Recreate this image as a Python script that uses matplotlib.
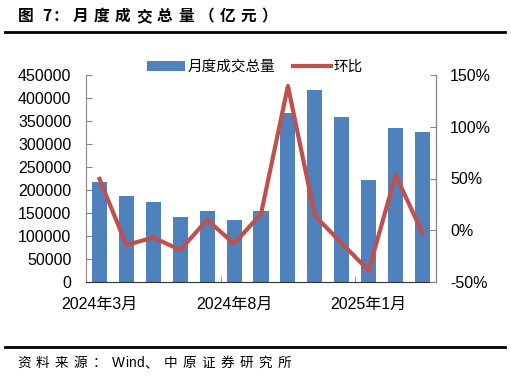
import matplotlib
matplotlib.use("Agg")
import matplotlib.pyplot as plt
from matplotlib.ticker import FuncFormatter, FixedLocator
import numpy as np

plt.rcParams['font.family'] = ['Liberation Sans', 'Noto Sans CJK SC', 'DejaVu Sans']

months = ["2024年3月", "2024年4月", "2024年5月", "2024年6月", "2024年7月", "2024年8月",
          "2024年9月", "2024年10月", "2024年11月", "2024年12月", "2025年1月", "2025年2月", "2025年3月"]
volume = [216700, 187600, 173900, 142000, 155000, 135400, 155000,
          368000, 418000, 358700, 221700, 335400, 325400]
mom = [49.6, -14.2, -7.1, -19.0, 10.0, -12.9, 15.7, 139.4, 14.1, -12.6, -39.0, 53.4, -2.9]

title = "图 7：月度成交总量（亿元）"
source = "资料来源：Wind、中原证券研究所"

bar_color = "#4F81BD"
line_color = "#C0504D"

W, H = 511, 378
fig = plt.figure(figsize=(W/100, H/100), dpi=100)
ax = fig.add_axes([86/W, 1-282/H, 350/W, 207/H])
ax2 = ax.twinx()

x = np.arange(len(months))
bars = ax.bar(x, volume, width=0.56, color=bar_color, label="月度成交总量", zorder=2)
line, = ax2.plot(x, mom, color=line_color, lw=3, label="环比", zorder=3)

ax.set_xlim(-0.5, len(months) - 0.5)
ax.set_ylim(0, 450000)
ax.set_yticks(np.arange(0, 450001, 50000))
ax2.set_ylim(-50, 150)
ax2.set_yticks([-50, 0, 50, 100, 150])
ax2.yaxis.set_major_formatter(FuncFormatter(lambda v, p: f"{int(v)}%"))

ax.set_xticks([0, 5, 10])
ax.set_xticklabels([months[0], months[5], months[10]])
ax.tick_params(axis='x', length=0, labelsize=11.5, pad=11)
ax.xaxis.set_minor_locator(FixedLocator([4.5, 9.5]))
ax.tick_params(axis='x', which='minor', length=4, direction='in', color='#888888')

ax.tick_params(axis='y', direction='in', length=4, labelsize=11.5, color='#888888', pad=10.5)
ax2.tick_params(axis='y', direction='in', length=4, labelsize=11.5, color='#888888', pad=10)

for a in (ax, ax2):
    a.spines['top'].set_visible(False)
ax.spines['left'].set_color('#888888')
ax2.spines['left'].set_visible(False)
ax2.spines['right'].set_color('#888888')
ax2.spines['bottom'].set_visible(False)
ax.spines['bottom'].set_color('#333333')
ax.set_zorder(ax2.get_zorder() - 1)
ax.patch.set_visible(False)

fig.legend(handles=[bars, line], labels=["月度成交总量", "环比"], loc='center',
           bbox_to_anchor=(255/W, 1-67/H), ncol=2, frameon=False, fontsize=10.5,
           handlelength=2.6, handletextpad=0.2, columnspacing=1.2)

renderer = fig.canvas.get_renderer()


def spaced_text(x0, y, s, extra, **kw):
    xp = x0
    for ch in s:
        t = fig.text(xp / W, 1 - y / H, ch, va='center', ha='left', **kw)
        w = t.get_window_extent(renderer=renderer).width
        if ch == ' ':
            w = 3
        xp += w + (extra if ord(ch) > 0x2000 else 0.5)
    return xp


spaced_text(18, 16, title, 5.2, fontsize=11.3, fontweight='bold',
            family=['Noto Sans CJK SC', 'DejaVu Sans'])
fig.add_artist(plt.Line2D([5/W, 505/W], [1-31.5/H, 1-31.5/H], color='black', lw=2))
fig.add_artist(plt.Line2D([5/W, 505/W], [1-346.5/H, 1-346.5/H], color='black', lw=2))
spaced_text(17, 363, source, 5.3, fontsize=9.8,
            family=['Liberation Sans', 'Noto Sans CJK SC'])

fig.savefig("out.png", dpi=100)
